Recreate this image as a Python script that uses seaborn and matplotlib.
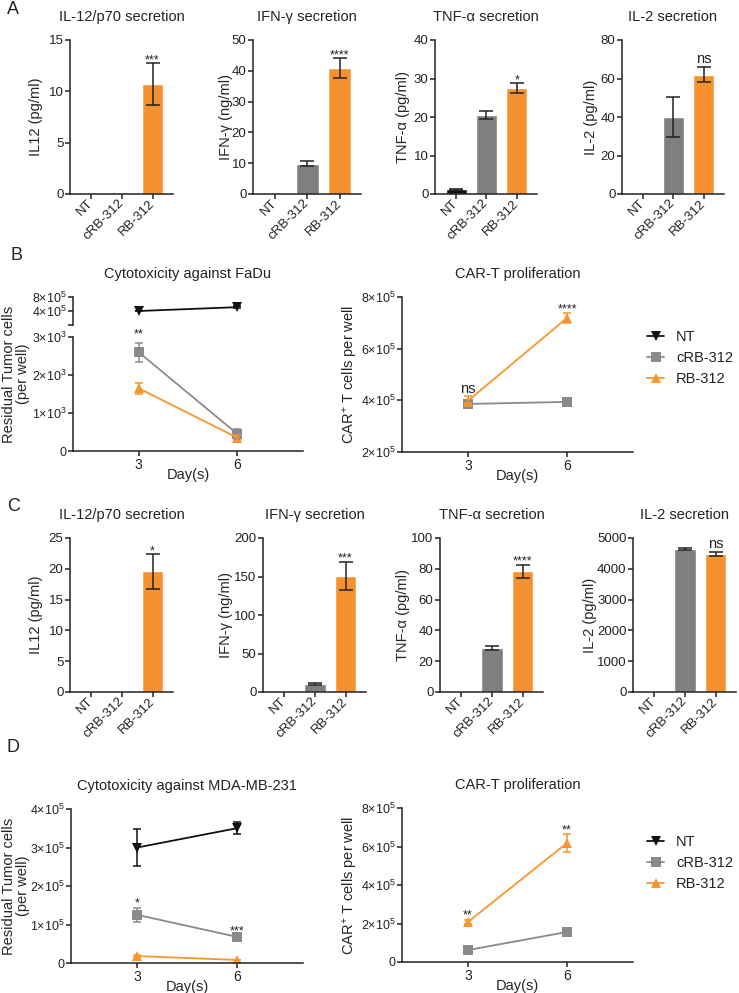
import numpy as np
import pandas as pd
import seaborn as sns
import matplotlib.pyplot as plt
from matplotlib.lines import Line2D

W, H = 739, 993

groups = ["NT", "cRB-312", "RB-312"]
days = [3, 6]

# panel A: secretion (bar values, SEM)
a_il12 = [0, 0, 10.7]
a_il12_err = [0, 0, 2.05]
a_ifng = [0, 9.8, 40.8]
a_ifng_err = [0, 0.8, 3.2]
a_tnfa = [1.2, 20.6, 27.5]
a_tnfa_err = [0.2, 1.0, 1.3]
a_il2 = [0, 40, 62]
a_il2_err = [0, 10.2, 4]

# panel C: secretion
c_il12 = [0, 0, 19.6]
c_il12_err = [0, 0, 2.8]
c_ifng = [0, 10.5, 151]
c_ifng_err = [0, 1.0, 18]
c_tnfa = [0, 28.5, 78.5]
c_tnfa_err = [0, 1.2, 4.2]
c_il2 = [0, 4630, 4480]
c_il2_err = [0, 30, 60]

# panel B: FaDu
b_nt = [4.0e5, 5.1e5]
b_nt_err = [0.05e5, 0.3e5]
b_crb = [2600, 450]
b_crb_err = [250, 130]
b_rb = [1650, 350]
b_rb_err = [150, 80]
b_prolif_crb = [3.86e5, 3.94e5]
b_prolif_crb_err = [0.1e5, 0.05e5]
b_prolif_rb = [3.98e5, 7.19e5]
b_prolif_rb_err = [0.2e5, 0.2e5]

# panel D: MDA-MB-231
d_nt = [3.0e5, 3.5e5]
d_nt_err = [0.48e5, 0.15e5]
d_crb = [1.25e5, 0.68e5]
d_crb_err = [0.18e5, 0.03e5]
d_rb = [0.18e5, 0.08e5]
d_rb_err = [0.02e5, 0.01e5]
d_prolif_crb = [0.62e5, 1.56e5]
d_prolif_crb_err = [0.03e5, 0.05e5]
d_prolif_rb = [2.08e5, 6.18e5]
d_prolif_rb_err = [0.1e5, 0.45e5]

bar_colors = {"NT": "#111111", "cRB-312": "#7f7f7f", "RB-312": "#f5922f"}
line_colors = {"NT": "#111111", "cRB-312": "#8a8a8a", "RB-312": "#f7962e"}
markers = {"NT": "v", "cRB-312": "s", "RB-312": "^"}

sns.set_style("ticks")
plt.rcParams['font.family'] = ['Liberation Sans', 'DejaVu Sans']
plt.rcParams['mathtext.fontset'] = 'custom'
plt.rcParams['mathtext.rm'] = 'Liberation Sans'
plt.rcParams['mathtext.it'] = 'Liberation Sans:italic'
plt.rcParams['axes.linewidth'] = 1.1
plt.rcParams['axes.edgecolor'] = '#222222'
plt.rcParams['xtick.major.size'] = 3.5
plt.rcParams['ytick.major.size'] = 3.5
plt.rcParams['xtick.major.width'] = 1.1
plt.rcParams['ytick.major.width'] = 1.1
plt.rcParams['ytick.major.pad'] = 1.2
plt.rcParams['xtick.major.pad'] = 2.5
plt.rcParams['xtick.color'] = '#222222'
plt.rcParams['ytick.color'] = '#222222'
plt.rcParams['text.color'] = '#222222'

fig = plt.figure(figsize=(W / 100, H / 100), dpi=100)


def add_ax(left, top, right, bottom):
    return fig.add_axes([left / W, 1 - bottom / H, (right - left) / W, (bottom - top) / H])


def sci(v):
    if v == 0:
        return "0"
    e = int(np.floor(np.log10(v)))
    return f"{v / 10**e:g}×10$^{{{e}}}$"


def bar_panel(box, vals, errs, title, ylabel, yticks, sig, label_px):
    ax = add_ax(*box)
    sns.barplot(x=groups, y=vals, hue=groups, palette=bar_colors, saturation=1,
                width=0.69, errorbar=None, legend=False, ax=ax)
    idx = [i for i, e in enumerate(errs) if e > 0]
    ax.errorbar(idx, [vals[i] for i in idx], yerr=[errs[i] for i in idx], fmt='none',
                ecolor='#222222', elinewidth=1.1, capsize=5.3, capthick=1.1)
    off = 3 if sig == "ns" else 0
    ax.annotate(sig, (2, vals[2] + errs[2]), xytext=(0, off), textcoords='offset points',
                ha='center', va='baseline', fontsize=10.5 if sig == "ns" else 9)
    ax.set_xlim(-0.7, 2.67)
    ax.set_ylim(yticks[0], yticks[-1])
    ax.set_yticks(yticks)
    ax.tick_params(axis='y', labelsize=9.5)
    ax.tick_params(axis='x', labelsize=9.5, pad=2)
    for lab in ax.get_xticklabels():
        lab.set_rotation(45)
        lab.set_ha('right')
        lab.set_va('center')
        lab.set_rotation_mode('anchor')
    ax.set_title(title, fontsize=10.5, pad=13.5)
    ax.set_ylabel(ylabel, fontsize=10.5)
    ax.yaxis.set_label_coords((label_px - box[0]) / (box[2] - box[0]), 0.5)
    sns.despine(ax=ax)
    return ax


def draw_lines(ax, names, vals, errs):
    df = pd.DataFrame({"day": np.tile(days, len(names)),
                       "value": np.concatenate(vals),
                       "group": np.repeat(names, len(days))})
    sns.lineplot(data=df, x="day", y="value", hue="group", style="group",
                 palette={n: line_colors[n] for n in names},
                 markers={n: markers[n] for n in names}, dashes=False,
                 markersize=6.5, markeredgewidth=0, linewidth=1.3,
                 errorbar=None, legend=False, ax=ax)
    for n, v, e in zip(names, vals, errs):
        ax.errorbar(days, v, yerr=e, fmt='none', ecolor=line_colors[n],
                    elinewidth=1.1, capsize=3, capthick=1.1)


def mark(ax, text, x, y, off=0, size=9):
    ax.annotate(text, (x, y), xytext=(0, off), textcoords='offset points',
                ha='center', va='baseline', fontsize=size)


def line_axis(ax, yticks, box, label, label_px, label_y=0.5, xaxis=True):
    ax.set_xlim(1, 8)
    ax.set_ylim(yticks[0], yticks[-1])
    ax.set_yticks(yticks)
    ax.set_yticklabels([sci(v) for v in yticks])
    ax.tick_params(axis='y', labelsize=9)
    ax.tick_params(axis='x', labelsize=10, pad=1.5)
    ax.set_xticks(days)
    if xaxis:
        ax.set_xlabel("Day(s)", fontsize=10.5, labelpad=-3)
    else:
        ax.set_xlabel("")
    if label:
        ax.set_ylabel(label, fontsize=10.5, linespacing=1.0)
        ax.yaxis.set_label_coords((label_px - box[0]) / (box[2] - box[0]), label_y)
    else:
        ax.set_ylabel("")
    sns.despine(ax=ax)


# ---- panel A ----
bar_panel((70, 40, 173, 194), a_il12, a_il12_err, "IL-12/p70 secretion", "IL12 (pg/ml)",
          [0, 5, 10, 15], "***", 43)
bar_panel((253, 40, 361, 194), a_ifng, a_ifng_err, "IFN-γ secretion", "IFN-γ (ng/ml)",
          [0, 10, 20, 30, 40, 50], "****", 233)
bar_panel((435, 40, 537, 194), a_tnfa, a_tnfa_err, "TNF-α secretion", "TNF-α (pg/ml)",
          [0, 10, 20, 30, 40], "*", 410)
bar_panel((622, 40, 724, 194), a_il2, a_il2_err, "IL-2 secretion", "IL-2 (pg/ml)",
          [0, 20, 40, 60, 80], "ns", 598)

# ---- panel C ----
bar_panel((70, 538, 173, 692), c_il12, c_il12_err, "IL-12/p70 secretion", "IL12 (pg/ml)",
          [0, 5, 10, 15, 20, 25], "*", 43)
bar_panel((263, 538, 366, 692), c_ifng, c_ifng_err, "IFN-γ secretion", "IFN-γ (ng/ml)",
          [0, 50, 100, 150, 200], "***", 233)
bar_panel((440, 538, 543, 692), c_tnfa, c_tnfa_err, "TNF-α secretion", "TNF-α (pg/ml)",
          [0, 20, 40, 60, 80, 100], "****", 410)
bar_panel((633, 538, 736, 692), c_il2, c_il2_err, "IL-2 secretion", "IL-2 (pg/ml)",
          [0, 1000, 2000, 3000, 4000, 5000], "ns", 597)

# ---- panel B: broken axis cytotoxicity ----
box_top = (73, 297, 303, 325)
box_low = (73, 337, 303, 451)
ax_top = add_ax(*box_top)
draw_lines(ax_top, ["NT"], [b_nt], [b_nt_err])
line_axis(ax_top, [0, 4e5, 8e5], box_top, None, 0, xaxis=False)
ax_top.set_yticklabels(["", sci(4e5), sci(8e5)])
ax_top.spines['bottom'].set_visible(False)
ax_top.tick_params(axis='x', bottom=False, labelbottom=False)
ax_top.set_title("Cytotoxicity against FaDu", fontsize=10.5, pad=13.5)

ax_low = add_ax(*box_low)
draw_lines(ax_low, ["cRB-312", "RB-312"], [b_crb, b_rb], [b_crb_err, b_rb_err])
line_axis(ax_low, [0, 1000, 2000, 3000], box_low, "Residual Tumor cells\n(per well)", 30, 0.675)
mark(ax_low, "**", 3, b_crb[0] + b_crb_err[0], 4)

box_bp = (402, 297, 633, 452)
ax_bp = add_ax(*box_bp)
draw_lines(ax_bp, ["cRB-312", "RB-312"], [b_prolif_crb, b_prolif_rb],
           [b_prolif_crb_err, b_prolif_rb_err])
line_axis(ax_bp, [2e5, 4e5, 6e5, 8e5], box_bp, "CAR$^{+}$ T cells per well", 360)
ax_bp.set_title("CAR-T proliferation", fontsize=10.5, pad=13.5)
mark(ax_bp, "ns", 3, b_prolif_rb[0] + b_prolif_rb_err[0], 2, 10.5)
mark(ax_bp, "****", 6, b_prolif_rb[1] + b_prolif_rb_err[1], 0)

# ---- panel D ----
box_dl = (71, 809, 303, 963)
ax_dl = add_ax(*box_dl)
draw_lines(ax_dl, ["NT", "cRB-312", "RB-312"], [d_nt, d_crb, d_rb], [d_nt_err, d_crb_err, d_rb_err])
line_axis(ax_dl, [0, 1e5, 2e5, 3e5, 4e5], box_dl, "Residual Tumor cells\n(per well)", 30)
ax_dl.set_title("Cytotoxicity against MDA-MB-231", fontsize=10.5, pad=13.5)
mark(ax_dl, "*", 3, d_crb[0] + d_crb_err[0], 1)
mark(ax_dl, "***", 6, d_crb[1] + d_crb_err[1], 1)

box_dr = (402, 808, 633, 962)
ax_dr = add_ax(*box_dr)
draw_lines(ax_dr, ["cRB-312", "RB-312"], [d_prolif_crb, d_prolif_rb],
           [d_prolif_crb_err, d_prolif_rb_err])
line_axis(ax_dr, [0, 2e5, 4e5, 6e5, 8e5], box_dr, "CAR$^{+}$ T cells per well", 360)
ax_dr.set_title("CAR-T proliferation", fontsize=10.5, pad=13.5)
mark(ax_dr, "**", 3, d_prolif_rb[0] + d_prolif_rb_err[0], 1)
mark(ax_dr, "**", 6, d_prolif_rb[1] + d_prolif_rb_err[1], 1)

# legends
handles = [Line2D([0], [0], color=line_colors[g], marker=markers[g], markersize=6.5,
                  markeredgewidth=0, lw=1.3) for g in groups]
for cy in (358, 863):
    fig.legend(handles, groups, loc='center left', bbox_to_anchor=(641 / W, 1 - cy / H),
               frameon=False, fontsize=10.5, handlelength=1.2, handletextpad=0.8,
               labelspacing=0.5, borderaxespad=0)

# panel letters
for letter, (lx, ly) in zip("ABCD", [(7, 10), (10, 256), (7, 506), (7, 747)]):
    fig.text(lx / W, 1 - ly / H, letter, fontsize=13, va='center', ha='left')

fig.savefig("out.png", dpi=100)
